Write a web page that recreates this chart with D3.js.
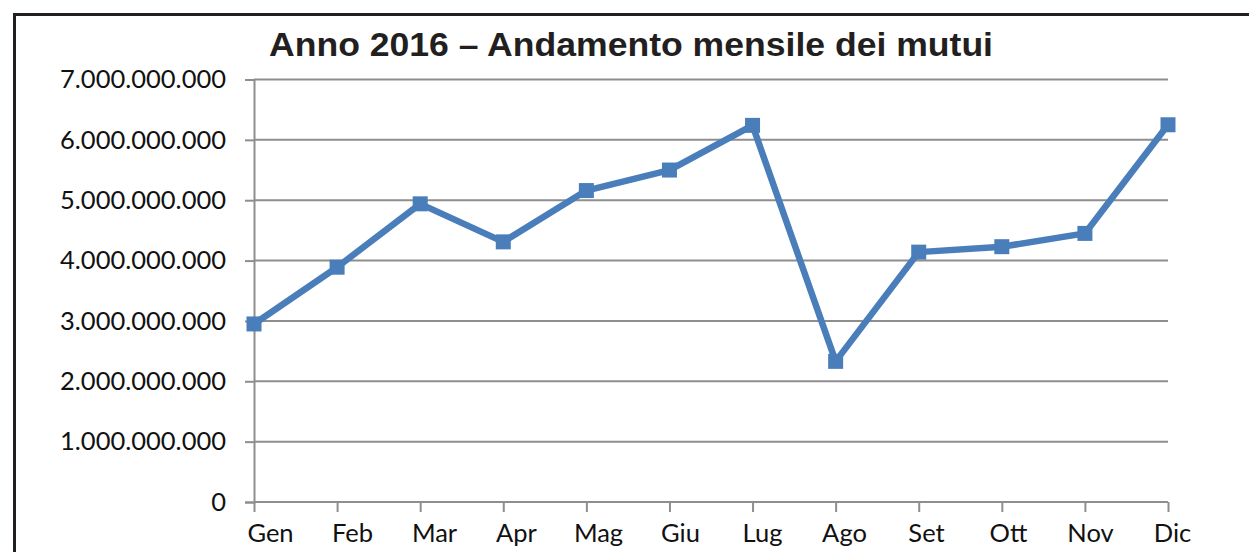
<!DOCTYPE html>
<html>
<head>
<meta charset="utf-8">
<script src="https://cdn.jsdelivr.net/npm/d3@7"></script>
<style>
  body { margin: 0; background: #fff; }
  svg { display: block; }
</style>
</head>
<body>
<svg width="1249" height="552"></svg>
<script>
const months = ["Gen", "Feb", "Mar", "Apr", "Mag", "Giu", "Lug", "Ago", "Set", "Ott", "Nov", "Dic"];
const mutui = [2.95e9, 3.89e9, 4.94e9, 4.31e9, 5.16e9, 5.50e9, 6.24e9, 2.33e9, 4.14e9, 4.23e9, 4.45e9, 6.25e9];
const yTicks = [0, 1e9, 2e9, 3e9, 4e9, 5e9, 6e9, 7e9];
const title = "Anno 2016 \u2013 Andamento mensile dei mutui";

const svg = d3.select("svg");
const itLocale = d3.formatLocale({ decimal: ",", thousands: ".", grouping: [3], currency: ["", " €"] });
const fmt = itLocale.format(",");

const x = d3.scalePoint().domain(months).range([254, 1168]);
// category labels sit a little off their ticks in the original
const xLabel = d3.scalePoint().domain(months).range([270, 1172]);
const y = d3.scaleLinear().domain([0, 7e9]).range([502, 79.5]);

// frame
svg.append("path")
  .attr("d", "M14.5,560 V14.5 H1260")
  .attr("fill", "none")
  .attr("stroke", "#231f20")
  .attr("stroke-width", 3);

// title
svg.append("text")
  .attr("x", 269)
  .attr("y", 56)
  .attr("textLength", 724)
  .attr("lengthAdjust", "spacingAndGlyphs")
  .style("font-family", "'Liberation Sans', Arial, sans-serif")
  .style("font-weight", "bold")
  .style("font-size", "33px")
  .attr("fill", "#231f20")
  .text(title);

// gridlines
svg.append("g")
  .selectAll("line")
  .data(yTicks.filter(d => d > 0))
  .join("line")
  .attr("x1", 254).attr("x2", 1168)
  .attr("y1", d => y(d)).attr("y2", d => y(d))
  .attr("stroke", "#8e8e8e")
  .attr("stroke-width", 2);

// y axis
const yAxis = svg.append("g")
  .attr("transform", "translate(254,0)")
  .call(d3.axisLeft(y).tickValues(yTicks).tickFormat(fmt).tickSize(9).tickPadding(19));
yAxis.select(".domain").attr("stroke", "#8e8e8e").attr("stroke-width", 2);
yAxis.selectAll(".tick line").attr("stroke", "#8e8e8e").attr("stroke-width", 2);
yAxis.selectAll(".tick text")
  .style("font-family", "Lato, 'Open Sans', sans-serif")
  .style("font-size", "25.5px")
  .attr("fill", "#111");

// x axis
const xAxis = svg.append("g")
  .attr("transform", "translate(0,502)")
  .call(d3.axisBottom(x).tickSize(10).tickPadding(8));
xAxis.select(".domain").attr("stroke", "#8e8e8e").attr("stroke-width", 2)
  .attr("d", "M254,0H1168");
xAxis.selectAll(".tick line").attr("stroke", "#8e8e8e").attr("stroke-width", 2);
xAxis.selectAll(".tick text")
  .attr("x", d => xLabel(d) - x(d))
  .attr("dy", "0.71em")
  .attr("y", 22)
  .style("font-family", "Lato, 'Open Sans', sans-serif")
  .style("font-size", "25.5px")
  .attr("fill", "#111");

// series
const line = d3.line()
  .x((d, i) => x(months[i]))
  .y(d => y(d));

svg.append("path")
  .datum(mutui)
  .attr("d", line)
  .attr("fill", "none")
  .attr("stroke", "#4a7ebb")
  .attr("stroke-width", 6.5)
  .attr("stroke-linejoin", "round");

const ms = 15;
svg.append("g")
  .selectAll("rect")
  .data(mutui)
  .join("rect")
  .attr("x", (d, i) => x(months[i]) - ms / 2)
  .attr("y", d => y(d) - ms / 2)
  .attr("width", ms)
  .attr("height", ms)
  .attr("fill", "#4a7ebb");
</script>
</body>
</html>
